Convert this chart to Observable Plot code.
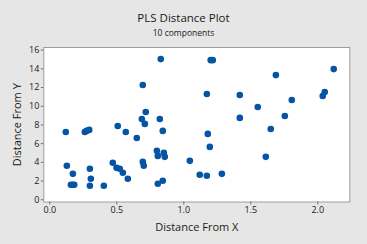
<!DOCTYPE html>
<html><head><meta charset="utf-8">
<script src="https://cdn.jsdelivr.net/npm/d3@7"></script>
<script src="https://cdn.jsdelivr.net/npm/@observablehq/plot@0.6"></script>
<style>
html,body{margin:0;padding:0;background:#e6e6e6;}
#wrap{position:relative;width:367px;height:244px;background:#e6e6e6;font-family:"Open Sans",sans-serif;overflow:hidden;color:#1a1a1a}
#head{height:40px;position:relative}
#title{position:absolute;top:11px;left:0;width:367px;text-align:center;font-size:11.5px;line-height:14px}
#subtitle{position:absolute;top:27px;left:0;width:367px;text-align:center;font-size:8.5px;line-height:11px}
svg{display:block}
</style>
</head><body>
<div id="wrap"><div id="head"><div id="title">PLS Distance Plot</div><div id="subtitle">10 components</div></div><div id="chart"></div></div>
<script>
const distX = [0.119,0.127,0.172,0.157,0.172,0.182,0.261,0.274,0.294,0.299,0.306,0.299,0.403,0.470,0.498,0.507,0.522,0.545,0.567,0.582,0.649,0.687,0.694,0.694,0.701,0.709,0.716,0.799,0.806,0.806,0.821,0.828,0.843,0.851,0.858,0.843,1.045,1.119,1.172,1.172,1.179,1.194,1.201,1.216,1.284,1.418,1.418,1.552,1.612,1.649,1.687,1.754,1.806,2.037,2.052,2.119];
const distY = [7.25,3.63,2.77,1.60,1.60,1.60,7.25,7.36,7.47,3.31,2.24,1.49,1.49,3.95,3.41,7.89,3.31,2.88,7.25,2.24,6.61,8.64,12.27,4.05,3.63,8.11,9.39,5.23,4.69,1.71,8.64,15.04,7.36,5.01,4.59,2.03,4.16,2.67,2.56,11.31,7.04,5.65,14.93,14.93,2.77,11.20,8.75,9.92,4.59,7.57,13.33,8.96,10.67,11.09,11.52,13.97];
const xTicks = [0,0.5,1.0,1.5,2.0];
const yTicks = [0,2,4,6,8,10,12,14,16];
const xLabel = "Distance From X";
const yLabel = "Distance From Y";
const data = distX.map((x,i)=>({x, y: distY[i]}));
const chart = Plot.plot({
  width: 367, height: 204,
  marginTop: 7, marginBottom: 42.5, marginLeft: 43.3, marginRight: 17.7,
  style: {background: "transparent", fontFamily: "'Open Sans', sans-serif", fontSize: "9px", color: "#1a1a1a"},
  x: {domain: [-0.045, 2.239]},
  y: {domain: [-0.24, 16.28]},
  marks: [
    Plot.frame({fill: "white", stroke: "#9e9e9e"}),
    Plot.axisX({ticks: xTicks, tickFormat: d3.format(".1f"), tickSize: 3, tickPadding: 2, label: xLabel, labelArrow: "none", labelAnchor: "center", labelOffset: 29, fontSize: 9, stroke: "#6e6e6e"}),
    Plot.axisY({ticks: yTicks, tickSize: 2.5, tickPadding: 2, label: yLabel, labelArrow: "none", labelAnchor: "center", labelOffset: 31, fontSize: 9, stroke: "#6e6e6e"}),
    Plot.dot(data, {x: "x", y: "y", r: 3.3, fill: "#0655a5", stroke: "none"})
  ]
});
document.getElementById("chart").appendChild(chart);
d3.select(chart).selectAll("[aria-label='x-axis label'] text, [aria-label='y-axis label'] text").style("font-size","11px");
</script>
</body></html>
